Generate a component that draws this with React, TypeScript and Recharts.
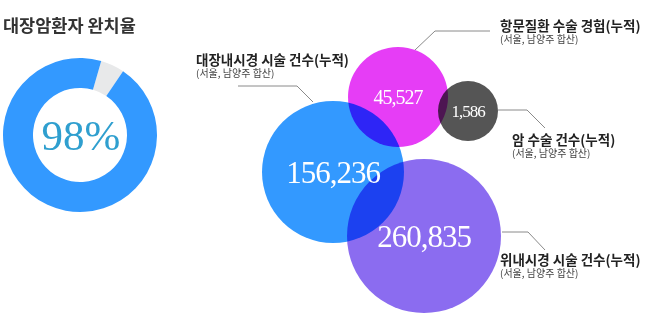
import React from 'react';
import { PieChart, Pie, Cell, ScatterChart, Scatter, XAxis, YAxis, ZAxis } from 'recharts';

// donut: cure rate (gray slice drawn as it appears in the picture)
const cureRate = [
  { name: 'rest', value: 5 },
  { name: 'cured', value: 95 },
];
const cureColors = ['#e8e9ea', '#3399ff'];

// bubbles
const bubbleNames = ['colon', 'anal', 'cancer', 'gastro'];
const bubbleValues = [156236, 45527, 1586, 260835];
const bubbleX = [333, 398, 468, 424];
const bubbleY = [172, 97, 111, 236];
const bubbleR = [71, 50, 30, 77];

const bubbleStyle: Record<string, { fill: string; fontSize: number }> = {
  colon: { fill: '#3399ff', fontSize: 31 },
  anal: { fill: '#e63df6', fontSize: 20 },
  cancer: { fill: '#555555', fontSize: 17 },
  gastro: { fill: '#8b6cf0', fontSize: 31 },
};

const bubbles = bubbleNames.map((name, i) => ({
  name,
  value: bubbleValues[i],
  x: bubbleX[i],
  y: bubbleY[i],
  r: bubbleR[i],
}));

const serif = '"Liberation Serif", "DejaVu Serif", serif';
const sans = '"Noto Sans CJK KR", "Noto Sans", sans-serif';

function radiusOf(p: any) {
  if (typeof p.size === 'number') return p.size;
  return Math.PI * Math.pow((p.width ?? 0) / 2, 2);
}

const CircleShape = (p: any) => {
  const st = bubbleStyle[p.payload.name];
  return (
    <circle
      cx={p.cx}
      cy={p.cy}
      r={radiusOf(p)}
      fill={st.fill}
      style={{ mixBlendMode: 'multiply' }}
    />
  );
};

const ValueShape = (p: any) => {
  const st = bubbleStyle[p.payload.name];
  return (
    <text
      x={p.cx}
      y={p.cy}
      textAnchor="middle"
      dominantBaseline="central"
      fill="#ffffff"
      fontFamily={serif}
      fontSize={st.fontSize}
      letterSpacing={-1}
    >
      {p.payload.value.toLocaleString('en-US')}
    </text>
  );
};

const callouts = [
  { title: '항문질환 수술 경험(누적)', x: 500, y: 31, line: '415,50 435,31 490,31' },
  { title: '대장내시경 시술 건수(누적)', x: 196, y: 65, line: '238,86 297,86 313,102' },
  { title: '암 수술 건수(누적)', x: 512, y: 145, line: '498,110 527,110 545,128' },
  { title: '위내시경 시술 건수(누적)', x: 500, y: 265, line: '502,232 528,232 545,250' },
];

export default function App() {
  return (
    <div style={{ position: 'absolute', left: 0, top: 0, width: 650, height: 317, background: '#fff' }}>
      <div style={{ position: 'absolute', left: 0, top: 55 }}>
        <PieChart width={160} height={160} margin={{ top: 0, right: 0, bottom: 0, left: 0 }}>
          <Pie
            data={cureRate}
            dataKey="value"
            cx={80}
            cy={80}
            innerRadius={47}
            outerRadius={77}
            startAngle={74}
            endAngle={-286}
            stroke="none"
            isAnimationActive={false}
          >
            {cureRate.map((d, i) => (
              <Cell key={d.name} fill={cureColors[i]} />
            ))}
          </Pie>
        </PieChart>
      </div>
      <div style={{ position: 'absolute', left: 0, top: 0 }}>
        <ScatterChart width={650} height={317} margin={{ top: 0, right: 0, bottom: 0, left: 0 }}>
          <XAxis type="number" dataKey="x" domain={[0, 650]} hide />
          <YAxis type="number" dataKey="y" domain={[0, 317]} reversed hide />
          <ZAxis type="number" dataKey="r" domain={[0, 100]} range={[0, 100]} />
          <Scatter data={bubbles} shape={CircleShape} isAnimationActive={false} />
          <Scatter data={bubbles} shape={ValueShape} isAnimationActive={false} />
        </ScatterChart>
      </div>
      <svg width={650} height={317} style={{ position: 'absolute', left: 0, top: 0, pointerEvents: 'none' }}>
        <text x={3} y={32} fontFamily={sans} fontSize={17.5} fontWeight={700} fill="#333">
          대장암환자 완치율
        </text>
        <text x={81} y={150} textAnchor="middle" fontFamily={serif} fontSize={43} fill="#2f9fcf">
          98%
        </text>
        {callouts.map((c) => (
          <g key={c.title}>
            <polyline points={c.line} fill="none" stroke="#8a8a8a" strokeWidth={1} />
            <text x={c.x} y={c.y} fontFamily={sans} fontSize={13.5} fontWeight={700} fill="#222">
              {c.title}
            </text>
            <text x={c.x} y={c.y + 12} fontFamily={sans} fontSize={10} fill="#444">
              (서울, 남양주 합산)
            </text>
          </g>
        ))}
      </svg>
    </div>
  );
}
